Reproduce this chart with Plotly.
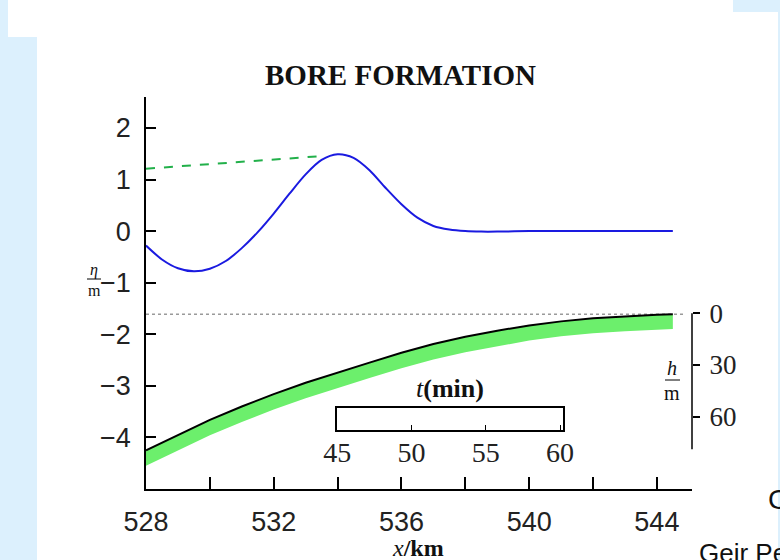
import plotly.graph_objects as go

# ---------------- data ----------------
x_eta = [528.0, 528.5, 529.0, 529.5, 530.0, 530.5, 531.0, 531.5, 532.0, 532.5,
         533.0, 533.5, 534.0, 534.5, 535.0, 535.5, 536.0, 536.5, 537.0, 537.5,
         538.0, 538.5, 539.0, 540.0, 541.0, 542.0, 543.0, 544.0, 544.5]
eta = [-0.28, -0.55, -0.72, -0.78, -0.73, -0.58, -0.33, -0.02, 0.34, 0.73,
       1.10, 1.38, 1.49, 1.42, 1.18, 0.84, 0.52, 0.26, 0.10, 0.03,
       0.0, -0.01, -0.01, 0.0, 0.0, 0.0, 0.0, 0.0, 0.0]

x_crest = [528.0, 533.4]
eta_crest = [1.21, 1.45]

x_bed = [528, 529, 530, 531, 532, 533, 534, 535, 536, 537, 538, 539,
         540, 541, 542, 543, 544, 544.5]
bed_top = [-4.25, -3.95, -3.66, -3.40, -3.16, -2.94, -2.74, -2.55, -2.36,
           -2.19, -2.05, -1.93, -1.83, -1.75, -1.69, -1.65, -1.62, -1.61]
bed_bottom = [-4.55, -4.25, -3.96, -3.70, -3.46, -3.24, -3.04, -2.85, -2.66,
              -2.49, -2.35, -2.23, -2.12, -2.04, -1.98, -1.94, -1.91, -1.90]

x_ref = [528.0, 544.9]
eta_ref = [-1.61, -1.61]

x_ticks = [528, 530, 532, 534, 536, 538, 540, 542, 544]
x_ticktext = ["528", "", "532", "", "536", "", "540", "", "544"]
y_ticks = [-4, -3, -2, -1, 0, 1, 2]
h_ticks = [0, 30, 60]
t_ticks = [45, 50, 55, 60]

# ---------------- layout geometry ----------------
W, H = 780, 560
ML, MR, MT, MB = 146, 88, 97, 71
PW, PH = W - ML - MR, H - MT - MB


def px(x):
    return (x - ML) / PW


def py(y):
    return (H - MB - y) / PH


fig = go.Figure()

# green band (bed)
fig.add_trace(go.Scatter(x=x_bed, y=bed_bottom, mode="lines",
                         line=dict(color="#6cef6c", width=0), showlegend=False,
                         hoverinfo="skip"))
fig.add_trace(go.Scatter(x=x_bed, y=bed_top, mode="lines", fill="tonexty",
                         fillcolor="#6cef6c", line=dict(color="#6cef6c", width=0),
                         showlegend=False, hoverinfo="skip"))
# dotted reference level
fig.add_trace(go.Scatter(x=x_ref, y=eta_ref, mode="lines",
                         line=dict(color="#9a9a9a", width=1.5, dash="dot"),
                         showlegend=False))
# black bed line
fig.add_trace(go.Scatter(x=x_bed, y=bed_top, mode="lines",
                         line=dict(color="black", width=2), showlegend=False))
# green dashed crest line
fig.add_trace(go.Scatter(x=x_crest, y=eta_crest, mode="lines",
                         line=dict(color="#22b04a", width=2, dash="dash"),
                         showlegend=False))
# blue surface elevation
fig.add_trace(go.Scatter(x=x_eta, y=eta, mode="lines", line_shape="spline",
                         line=dict(color="#1a1ae0", width=2, smoothing=0.8),
                         showlegend=False))
# dummy trace for the h axis
fig.add_trace(go.Scatter(x=[None], y=[None], yaxis="y2", showlegend=False))
# dummy trace for the inset time axis
fig.add_trace(go.Scatter(x=[None], y=[None], xaxis="x2", yaxis="y3",
                         showlegend=False))

sans = "Liberation Sans, Arial, sans-serif"
serif = "Liberation Serif, Times New Roman, serif"

fig.update_layout(
    width=W, height=H,
    margin=dict(l=ML, r=MR, t=MT, b=MB),
    paper_bgcolor="#dcf0fd",
    plot_bgcolor="rgba(0,0,0,0)",
    xaxis=dict(range=[528, 545.1], tickvals=x_ticks, ticktext=x_ticktext,
               ticks="inside", ticklen=12, tickwidth=1.5, tickcolor="black",
               showline=True, linecolor="black", linewidth=1.5,
               showgrid=False, zeroline=False,
               tickfont=dict(family=sans, size=27, color="#222"),
               ticklabelstandoff=8),
    yaxis=dict(range=[-5, 2.6], tickvals=y_ticks,
               ticks="inside", ticklen=10, tickwidth=1.5, tickcolor="black",
               showline=True, linecolor="black", linewidth=1.5,
               showgrid=False, zeroline=False,
               tickfont=dict(family=sans, size=27, color="#222"),
               ticklabelstandoff=8),
    yaxis2=dict(overlaying="y", side="right", anchor="x",
                range=[102.0, -125.5], tickvals=h_ticks,
                ticks="outside", ticklen=7, tickwidth=1.5, tickcolor="black",
                showline=False, showgrid=False, zeroline=False,
                tickfont=dict(family=serif, size=27, color="#222"),
                ticklabelstandoff=4),
    xaxis2=dict(domain=[px(337.3), px(562.7)], anchor="y3", range=[45, 60.18],
                tickvals=t_ticks, ticks="inside", ticklen=5, tickwidth=1.2,
                tickcolor="black", showline=True, mirror=True,
                linecolor="black", linewidth=1.5, showgrid=False,
                zeroline=False,
                tickfont=dict(family=serif, size=28, color="#222"),
                ticklabelstandoff=-3),
    yaxis3=dict(domain=[py(430), py(408.3)], anchor="x2", range=[0, 1],
                showticklabels=False, ticks="", showline=True, mirror=True,
                linecolor="black", linewidth=1.5, showgrid=False,
                zeroline=False),
)

shapes = [
    # white panels of the slide
    dict(type="rect", xref="paper", yref="paper", layer="below",
         x0=px(8), x1=px(733), y0=py(37), y1=py(0),
         fillcolor="white", line=dict(width=0)),
    dict(type="rect", xref="paper", yref="paper", layer="below",
         x0=px(37), x1=px(778), y0=py(560), y1=py(12),
         fillcolor="white", line=dict(width=0)),
    # right h axis line
    dict(type="line", xref="paper", yref="y2", x0=1, x1=1, y0=0, y1=79,
         line=dict(color="black", width=1.5)),
    # fraction bars
    dict(type="line", xref="paper", yref="paper", x0=px(87), x1=px(101),
         y0=py(279), y1=py(279), line=dict(color="black", width=1)),
    dict(type="line", xref="paper", yref="paper", x0=px(665), x1=px(680),
         y0=py(380), y1=py(380), line=dict(color="black", width=1)),
]
fig.update_layout(shapes=shapes)

ann = [
    dict(text="<b>BORE FORMATION</b>", x=px(400), y=py(75),
         font=dict(family=serif, size=29, color="#111")),
    dict(text="<i>t</i><b>(min)</b>", x=px(450), y=py(388),
         font=dict(family=serif, size=26, color="#111")),
    dict(text="<i>x</i><b>/km</b>", x=px(418), y=py(548),
         font=dict(family=serif, size=24, color="#111")),
    dict(text="<i>η</i>", x=px(94), y=py(270),
         font=dict(family=serif, size=16, color="#111")),
    dict(text="m", x=px(94), y=py(290),
         font=dict(family=serif, size=16, color="#111")),
    dict(text="<i>h</i>", x=px(672), y=py(368),
         font=dict(family=serif, size=20, color="#111")),
    dict(text="m", x=px(672), y=py(393),
         font=dict(family=serif, size=20, color="#111")),
    dict(text="C", x=px(766), y=py(499), xanchor="left",
         font=dict(family=sans, size=28, color="#111")),
    dict(text="Geir Pedersen", x=px(697), y=py(553), xanchor="left",
         font=dict(family=sans, size=26, color="#111")),
]
for a in ann:
    a.setdefault("xanchor", "center")
    a.update(xref="paper", yref="paper", yanchor="middle", showarrow=False)
fig.update_layout(annotations=ann)

fig.write_html("out.html",
               config={"displayModeBar": False},
               post_script="document.body.style.margin='0';"
                           "document.body.style.overflow='hidden';")
